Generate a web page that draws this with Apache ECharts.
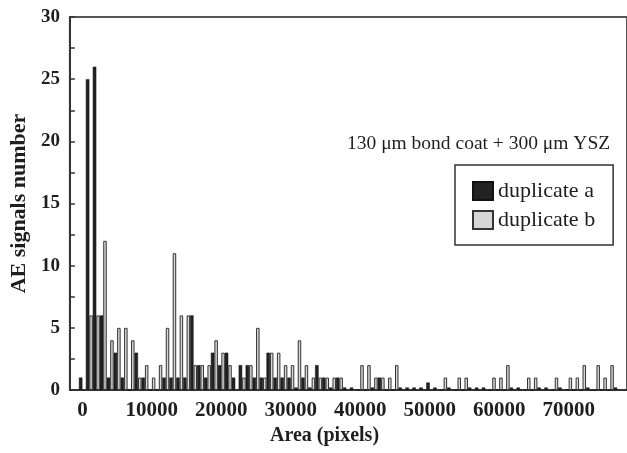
<!DOCTYPE html>
<html>
<head>
<meta charset="utf-8">
<title>AE signals histogram</title>
<script src="https://cdn.jsdelivr.net/npm/echarts@6.0.0/dist/echarts.min.js"></script>
<style>
  html, body { margin: 0; padding: 0; background: #fff; }
  #chart { width: 627px; height: 453px; }
</style>
</head>
<body>
<div id="chart"></div>
<script>
// bin centres (pixels), 1000 px wide bins
const binCenters = [
  0, 1000, 2000, 3000, 4000, 5000, 6000, 7000, 8000, 9000,
  10000, 11000, 12000, 13000, 14000, 15000, 16000, 17000, 18000, 19000,
  20000, 21000, 22000, 23000, 24000, 25000, 26000, 27000, 28000, 29000,
  30000, 31000, 32000, 33000, 34000, 35000, 36000, 37000, 38000, 39000,
  40000, 41000, 42000, 43000, 44000, 45000, 46000, 47000, 48000, 49000,
  50000, 51000, 52000, 53000, 54000, 55000, 56000, 57000, 58000, 59000,
  60000, 61000, 62000, 63000, 64000, 65000, 66000, 67000, 68000, 69000,
  70000, 71000, 72000, 73000, 74000, 75000, 76000, 77000
]

// duplicate a (dark bars)
const dupA = [
  1, 25, 26, 6, 1, 3, 1, 0, 3, 1,
  0, 0, 1, 1, 1, 1, 6, 2, 1, 3,
  2, 3, 1, 2, 2, 1, 1, 3, 1, 1,
  1, 0.2, 1, 0.2, 2, 1, 0.2, 1, 0.2, 0.2,
  0, 0, 0.2, 1, 0, 0, 0.2, 0.2, 0.2, 0.2,
  0.6, 0.2, 0, 0.2, 0, 0, 0.2, 0.2, 0.2, 0,
  0, 0, 0.2, 0.2, 0, 0, 0.2, 0.2, 0, 0.2,
  0, 0, 0, 0.2, 0, 0, 0, 0.2
]

// duplicate b (light bars)
const dupB = [
  0, 6, 6, 12, 4, 5, 5, 4, 1, 2,
  1, 2, 5, 11, 6, 6, 2, 2, 2, 4,
  3, 2, 0, 1, 2, 5, 1, 3, 3, 2,
  2, 4, 2, 1, 1, 1, 1, 1, 0, 0,
  2, 2, 1, 1, 1, 2, 0, 0, 0, 0,
  0, 0, 1, 0, 1, 1, 0, 0, 0, 1,
  1, 2, 0, 0, 1, 1, 0, 0, 1, 0,
  1, 1, 2, 0, 2, 1, 2, 0
]

const xLabels = [0, 10000, 20000, 30000, 40000, 50000, 60000, 70000]

const serif = 'Liberation Serif'
const ink = '#1e1e1e'

const chart = echarts.init(document.getElementById('chart'))

chart.setOption({
  backgroundColor: '#fff',
  animation: false,
  grid: {
    left: 67,
    right: -5,
    top: 17,
    bottom: 63,
    show: true,
    borderColor: '#555',
    borderWidth: 2
  },
  legend: {
    left: 455,
    top: 165,
    orient: 'vertical',
    padding: [15, 18, 14, 17],
    itemGap: 7,
    itemWidth: 20,
    itemHeight: 18,
    borderColor: '#333',
    borderWidth: 1.5,
    icon: 'rect',
    textStyle: { fontFamily: serif, fontSize: 22, color: ink },
    data: ['duplicate a', 'duplicate b']
  },
  xAxis: {
    type: 'value',
    min: -1800,
    max: 78400,
    axisLine: { show: true, onZero: false, lineStyle: { color: '#333', width: 2 } },
    axisTick: { show: false },
    splitLine: { show: false },
    axisLabel: {
      customValues: xLabels,
      formatter: v => String(v),
      fontFamily: serif,
      fontWeight: 'bold',
      fontSize: 21,
      color: ink,
      margin: 10
    }
  },
  yAxis: {
    type: 'value',
    min: 0,
    max: 30,
    interval: 5,
    name: 'AE signals number',
    nameLocation: 'middle',
    nameGap: 33,
    nameTextStyle: { fontFamily: serif, fontWeight: 'bold', fontSize: 22, color: ink },
    axisLine: { show: true, onZero: false, lineStyle: { color: '#333', width: 2 } },
    axisTick: { show: true, inside: true, length: 5, lineStyle: { color: '#333', width: 1.5 } },
    minorTick: { show: true, splitNumber: 2, length: 5, lineStyle: { color: '#333', width: 1.5 } },
    splitLine: { show: false },
    axisLabel: {
      fontFamily: serif,
      fontWeight: 'bold',
      fontSize: 19,
      color: ink,
      margin: 10
    }
  },
  graphic: [
    {
      type: 'text',
      left: 347,
      top: 134,
      style: {
        text: '130 \u03bcm bond coat + 300 \u03bcm YSZ',
        font: '19.5px "Liberation Serif"',
        fill: ink
      }
    },
    {
      type: 'text',
      left: 270,
      top: 426,
      style: {
        text: 'Area (pixels)',
        font: 'bold 20px "Liberation Serif"',
        fill: ink
      }
    }
  ],
  series: [
    {
      name: 'duplicate a',
      type: 'bar',
      barWidth: 3.5,
      barGap: '0%',
      itemStyle: { color: '#222', borderColor: '#111', borderWidth: 0.5 },
      data: binCenters.map((c, i) => [c, dupA[i]])
    },
    {
      name: 'duplicate b',
      type: 'bar',
      barWidth: 3.5,
      barGap: '0%',
      itemStyle: { color: '#d6d6d6', borderColor: '#333', borderWidth: 1 },
      data: binCenters.map((c, i) => [c, dupB[i]])
    }
  ]
})
</script>
</body>
</html>
